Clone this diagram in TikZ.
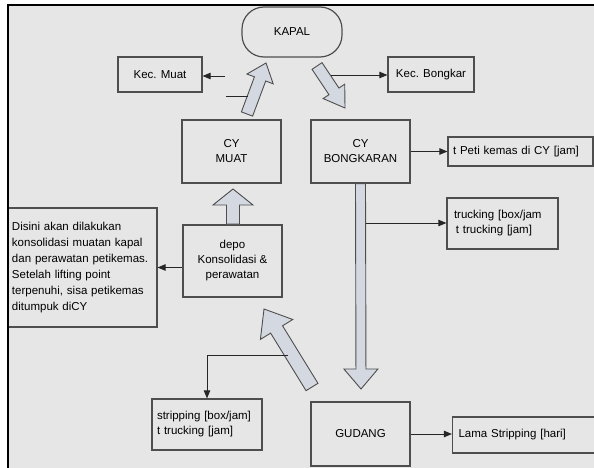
\documentclass[tikz,border=0pt]{standalone}
\usepackage{fontspec}
\setmainfont{Liberation Sans}
\usetikzlibrary{calc,arrows.meta}
\definecolor{bg}{RGB}{230,230,230}
\definecolor{edge}{RGB}{78,78,78}
\definecolor{blkfill}{RGB}{212,216,225}
\newcommand\blkarrow[5]{%
  \draw[blk] ($(#1)!#3!90:(#2)$)
    -- ($($(#2)!#5!(#1)$)!#3!90:(#2)$)
    -- ($($(#2)!#5!(#1)$)!#4!90:(#2)$)
    -- (#2)
    -- ($($(#2)!#5!(#1)$)!#4!-90:(#2)$)
    -- ($($(#2)!#5!(#1)$)!#3!-90:(#2)$)
    -- ($(#1)!#3!-90:(#2)$) -- cycle;}
\begin{document}
\begin{tikzpicture}[x=1pt,y=-1pt,
  box/.style={draw=edge, line width=1.2pt, fill=bg, inner xsep=5pt, inner ysep=0pt,
    font=\fontsize{11.5}{15}\selectfont, align=center},
  conn/.style={draw=black!85, line width=0.9pt, -{Triangle[length=8pt,width=6.5pt]}},
  plain/.style={draw=black!85, line width=0.9pt},
  blk/.style={draw=edge, line width=0.9pt, fill=blkfill, line join=miter}]
\useasboundingbox (0,0) rectangle (594,468);
\clip (0,0) rectangle (594,468);
\fill[white] (0,0) rectangle (594,468);
\fill[bg] (8,5) rectangle (594,468);

% nodes
\node[box, rounded corners=22pt, minimum width=100pt, minimum height=50pt] (kapal) at (292,32) {KAPAL};
\node[box, minimum width=84pt, minimum height=35pt] (kecmuat) at (160,74.5) {Kec. Muat};
\node[box, minimum width=86pt, minimum height=35pt] (kecbongkar) at (431,74.5) {Kec. Bongkar};
\node[box, minimum width=99pt, minimum height=63pt] (cymuat) at (231.5,151.5) {CY\\MUAT};
\node[box, minimum width=99pt, minimum height=63pt] (cybongkaran) at (360.5,151.5) {CY\\BONGKARAN};
\node[box, text width=135pt, align=left, minimum height=29pt] (petikemas) at (520.5,151.5) {t Peti kemas di CY [jam]};
\node[box, text width=97pt, inner xsep=7pt, align=left, minimum height=51pt] (trucking) at (502.5,223.5) {trucking [box/jam\\\,t trucking [jam]};
\node[box, text width=141pt, inner xsep=4pt, align=left, minimum height=119pt,
  font=\fontsize{11.5}{16}\selectfont] (expl) at (82.5,267.5)
  {Disini akan dilakukan\\konsolidasi muatan kapal\\dan perawatan petikemas.\\Setelah lifting point\\terpenuhi, sisa petikemas\\ditumpuk diCY};
\node[box, minimum width=99pt, minimum height=72pt] (depo) at (232.5,261) {depo\\Konsolidasi \&\\perawatan};
\node[box, text width=100pt, align=left, minimum height=51pt] (stripping) at (207,424.5) {stripping [box/jam]\\t trucking [jam]};
\node[box, minimum width=99pt, minimum height=64pt] (gudang) at (360.5,434) {GUDANG};
\node[box, text width=137pt, inner xsep=6pt, align=left, minimum height=36pt] (lama) at (527,435) {Lama Stripping [hari]};

% frame
\draw[line width=1.6pt] (8,468) -- (8,5) -- (594,5);

% block arrows
\coordinate (ua1) at (247,114); \coordinate (ua2) at (266,63);
\coordinate (da1) at (317,66);  \coordinate (da2) at (345,108);
\coordinate (va1) at (cybongkaran.south); \coordinate (va2) at (361,389);
\coordinate (dp1) at (233,224); \coordinate (dp2) at (233,189);
\coordinate (bd1) at (312,387); \coordinate (bd2) at (264,309);
\blkarrow{ua1}{ua2}{6pt}{14pt}{17pt}
\blkarrow{da1}{da2}{6pt}{13pt}{20pt}
\blkarrow{va1}{va2}{5pt}{17pt}{20pt}
\blkarrow{dp1}{dp2}{6.5pt}{20pt}{16pt}
\blkarrow{bd1}{bd2}{7pt}{19pt}{24pt}

% connectors
\coordinate (uaL) at (248,96); \coordinate (km1) at (226,96); \coordinate (km2) at (225,76);
\draw[plain] (uaL) -- (km1);
\draw[conn] (km2) -- (km2 -| kecmuat.east);
\coordinate (daR) at (331,75);
\draw[conn] (daR) -- (daR -| kecbongkar.west);
\draw[conn] (cybongkaran.east) -- (petikemas.west);
\coordinate (vaR) at (366,223);
\draw[conn] (vaR) -- (vaR -| trucking.west);
\draw[conn] (expl.east -| depo.west) -- (expl.east);
\coordinate (bdL) at (288,355);
\draw[conn] (bdL) -- (bdL -| stripping.north) -- (stripping.north);
\draw[conn] (gudang.east) -- (gudang.east -| lama.west);
\end{tikzpicture}
\end{document}
